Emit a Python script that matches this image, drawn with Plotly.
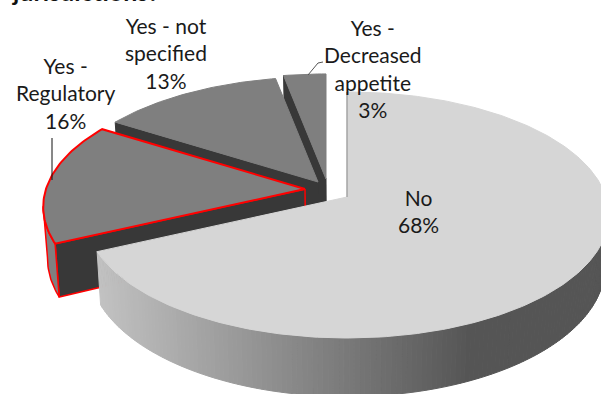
import math
import plotly.graph_objects as go

# Survey shares, in drawing order clockwise from twelve o'clock
categories = ["No", "Yes - Regulatory", "Yes - not specified", "Yes - Decreased appetite"]
shares = [68, 16, 13, 3]
label_lines = ["No", "Yes -<br>Regulatory", "Yes - not<br>specified", "Yes -<br>Decreased<br>appetite"]
title_text = "jurisdictions?"

# Canvas and projection of the tilted disc
WIDTH, HEIGHT = 601, 394
RX, RY, TILT, DEPTH = 259.0, 120.4, 0.146, 50.0
VANISH_X, LEAN = 347.0, 0.014

# Hub of every slice after it is pulled out of the pie
hubs = {
    "No": (347, 197),
    "Yes - Regulatory": (305, 189),
    "Yes - not specified": (318, 182),
    "Yes - Decreased appetite": (326, 179),
}
label_at = {
    "No": (418, 211),
    "Yes - Regulatory": (65, 93),
    "Yes - not specified": (166, 53),
    "Yes - Decreased appetite": (373, 68),
}

TOP_LIGHT, TOP_DARK, WALL_DARK, WALL_MID = "#d6d6d6", "#7f7f7f", "#383838", "#808080"
HIGHLIGHT = "#ff0000"
FONT = "Lato"


def project(hub, deg):
    t = math.radians(deg)
    s = 1 / (1 + TILT * math.cos(t))
    return hub[0] + RX * math.sin(t) * s, hub[1] - RY * math.cos(t) * s, s


def drop(p):
    # Lower rim point: verticals converge slightly towards the vanishing column
    return p[0] + (VANISH_X - p[0]) * LEAN, p[1] + DEPTH * p[2]


def polygon(points, fill, line=None, width=1.0):
    xs = [p[0] for p in points] + [points[0][0]]
    ys = [p[1] for p in points] + [points[0][1]]
    return go.Scatter(x=xs, y=ys, mode="lines", fill="toself", fillcolor=fill,
                      line=dict(color=line or fill, width=width),
                      hoverinfo="skip", showlegend=False)


def side_shade(x):
    # Outer wall of the big slice darkens from left to right
    f = min(max((x - 97) / (470 - 97), 0), 1)
    v = round(0xc2 + (0x55 - 0xc2) * f)
    return f"rgb({v},{v},{v})"


start = 0.0
spans = {}
for name, share in zip(categories, shares):
    spans[name] = (start, start + share * 3.6)
    start += share * 3.6

fig = go.Figure()

# Painted back to front so nearer slices cover farther ones
for name in reversed(categories):
    a0, a1 = spans[name]
    hub = hubs[name]
    picked = name == "Yes - Regulatory"
    edge = HIGHLIGHT if picked else None
    top_fill = TOP_LIGHT if name == "No" else TOP_DARK
    hub_pt = (hub[0], hub[1], 1.0)
    steps = max(int(a1 - a0), 2)
    arc = [project(hub, a0 + (a1 - a0) * i / steps) for i in range(steps + 1)]

    # Cut face leading away from the hub, when it turns towards the viewer
    if arc[0][0] < hub_pt[0] - 0.5:
        fig.add_trace(polygon([hub_pt[:2], arc[0][:2], drop(arc[0]), drop(hub_pt)],
                              WALL_DARK, edge, 1.5 if picked else 1))

    # Outer rim, only where it runs right to left on screen
    if name == "No":
        for p, q in zip(arc, arc[1:]):
            if q[0] < p[0]:
                fig.add_trace(polygon([p[:2], q[:2], drop(q), drop(p)], side_shade((p[0] + q[0]) / 2)))
    else:
        rim = [p for p, q in zip(arc, arc[1:]) if q[0] < p[0]]
        if rim:
            rim.append(arc[len(rim)])
            fig.add_trace(polygon([p[:2] for p in rim] + [drop(p) for p in reversed(rim)],
                                  WALL_MID, edge, 1.5 if picked else 1))

    outline = [hub_pt[:2]] + [p[:2] for p in arc]
    fig.add_trace(polygon(outline, top_fill, edge, 2 if picked else 1))

# Thin seam where the big slice's first cut is seen edge-on
seam = [project(hubs["No"], 0)[:2], hubs["No"]]
fig.add_trace(go.Scatter(x=[p[0] for p in seam], y=[p[1] for p in seam], mode="lines",
                         line=dict(color="#8a8a8a", width=1), hoverinfo="skip", showlegend=False))

# Leader lines from outer labels to their slices
for xs, ys, colour in [([52, 52], [138, 180], "#111111"),
                       ([308, 318, 323], [75, 63, 62], "#555555")]:
    fig.add_trace(go.Scatter(x=xs, y=ys, mode="lines", line=dict(color=colour, width=1),
                             hoverinfo="skip", showlegend=False))

for name, text, share in zip(categories, label_lines, shares):
    fig.add_annotation(x=label_at[name][0], y=label_at[name][1], xref="x", yref="y",
                       text=f"{text}<br>{share}%", showarrow=False, align="center",
                       font=dict(family=FONT, size=21, color="#1a1a1a"))

# Heading runs off the top edge of the page
fig.add_annotation(x=10, y=1, xref="x", yref="paper", xanchor="left", yanchor="top", yshift=26,
                   text=f"<b>{title_text}</b>", showarrow=False,
                   font=dict(family=FONT, size=25, color="#111111"))

fig.update_layout(
    width=WIDTH, height=HEIGHT, margin=dict(l=0, r=0, t=0, b=0),
    paper_bgcolor="white", plot_bgcolor="white", showlegend=False,
    xaxis=dict(range=[0, WIDTH], visible=False, fixedrange=True),
    yaxis=dict(range=[HEIGHT, 0], visible=False, fixedrange=True),
)
fig.write_html("out.html", config=dict(displayModeBar=False))
